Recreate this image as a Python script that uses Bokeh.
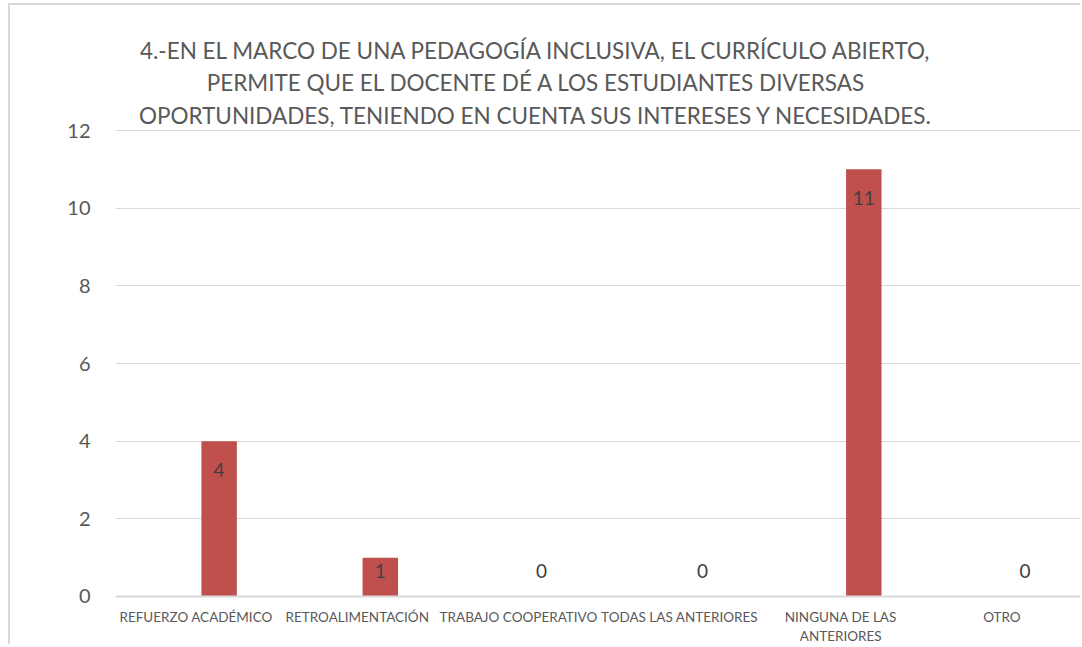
from bokeh.plotting import figure
from bokeh.models import Range1d, Label, ColumnDataSource, FixedTicker, Span
from bokeh.transform import dodge
from bokeh.core.properties import value
from bokeh.embed import file_html
from bokeh.resources import INLINE

categories = ["REFUERZO ACADÉMICO", "RETROALIMENTACIÓN", "TRABAJO COOPERATIVO",
              "TODAS LAS ANTERIORES", "NINGUNA DE LAS ANTERIORES", "OTRO"]
tick_labels = ["REFUERZO ACADÉMICO", "RETROALIMENTACIÓN", "TRABAJO COOPERATIVO",
               "TODAS LAS ANTERIORES", "NINGUNA DE LAS\nANTERIORES", "OTRO"]
counts = [4, 1, 0, 0, 11, 0]
title_lines = ["4.-EN EL MARCO DE UNA PEDAGOGÍA INCLUSIVA, EL CURRÍCULO ABIERTO,",
               "PERMITE QUE EL DOCENTE DÉ A LOS ESTUDIANTES DIVERSAS",
               "OPORTUNIDADES, TENIENDO EN CUENTA SUS INTERESES Y NECESIDADES."]
y_ticks = [0, 2, 4, 6, 8, 10, 12]

FONT = "Lato"
H = 641
label_y = [max(v - 0.73, 0.65) for v in counts]
src = ColumnDataSource(dict(cat=categories, val=counts, ly=label_y,
                            txt=[str(v) for v in counts]))

# the frame covers the full height so that title and category texts sit inside it
p = figure(x_range=categories, y_range=Range1d(-1.2876, 15.219), width=1072, height=H,
           output_backend="svg", toolbar_location=None, title=None,
           min_border_left=105, min_border_right=0, min_border_top=0,
           min_border_bottom=0)
p.outline_line_color = None
p.background_fill_color = "white"
p.border_fill_color = "white"
p.styles = {"margin-left": "8px", "margin-top": "3px",
            "border-top": "2px solid #d9d9d9", "border-left": "2px solid #d9d9d9"}

p.vbar(x=dodge("cat", 0.143, range=p.x_range), top="val", width=0.22, source=src,
       fill_color="#C0504D", line_color=None)
p.text(x=dodge("cat", 0.143, range=p.x_range), y="ly", text="txt", source=src,
       text_align="center", text_baseline="middle", text_font=value(FONT),
       text_font_size="19px", text_color="#404040")

p.xgrid.grid_line_color = None
p.ygrid.grid_line_color = "#d9d9d9"
p.ygrid.grid_line_width = 1
p.yaxis.ticker = FixedTicker(ticks=y_ticks)
p.yaxis.axis_line_color = None
p.yaxis.major_tick_line_color = None
p.yaxis.minor_tick_line_color = None
p.yaxis.major_label_text_font = FONT
p.yaxis.major_label_text_font_size = "20px"
p.yaxis.major_label_text_color = "#595959"
p.yaxis.major_label_standoff = 19

p.xaxis.visible = False
p.add_layout(Span(location=0, dimension="width", line_color="#d9d9d9", line_width=2))

for i, t in enumerate(tick_labels):
    for j, part in enumerate(t.split("\n")):
        p.add_layout(Label(x=i + 0.5, y=-0.54 - 0.49 * j, text=part,
                           text_align="center", text_baseline="middle",
                           text_font=FONT, text_font_size="13.5px",
                           text_color="#595959"))

for line, yy in zip(title_lines, [14.06, 13.24, 12.39]):
    p.add_layout(Label(x=421, x_units="screen", y=yy,
                       text=line, text_align="center", text_baseline="middle",
                       text_font=FONT, text_font_size="22.5px",
                       text_color="#595959"))

open("out.html", "w").write(file_html(p, INLINE))
